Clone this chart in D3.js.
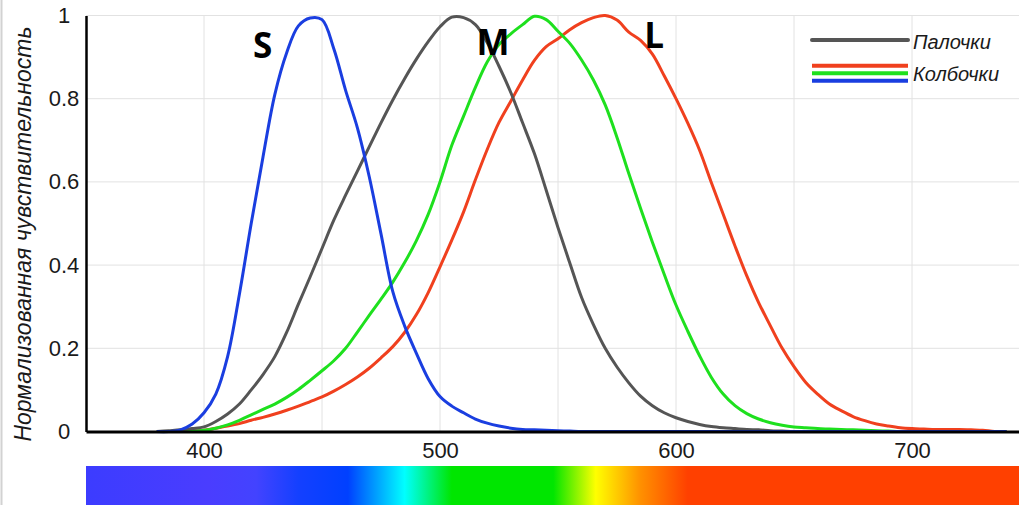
<!DOCTYPE html>
<html>
<head>
<meta charset="utf-8">
<script src="https://cdn.jsdelivr.net/npm/d3@7"></script>
<style>
  body { margin: 0; background: #fff; }
  svg { display: block; font-family: "Liberation Sans", Arial, sans-serif; }
</style>
</head>
<body>
<div id="canvas"></div>
<script>
// wavelengths, nm (shared grid for all curves)
var wavelengths = [
  380, 385, 390, 395, 400, 405, 410, 415, 420, 425,
  430, 435, 440, 445, 450, 455, 460, 465, 470, 475,
  480, 485, 490, 495, 500, 505, 510, 515, 520, 525,
  530, 535, 540, 545, 550, 555, 560, 565, 570, 575,
  580, 585, 590, 595, 600, 605, 610, 615, 620, 625,
  630, 635, 640, 645, 650, 655, 660, 665, 670, 675,
  680, 685, 690, 695, 700, 705, 710, 715, 720, 725,
  730, 735, 740
];

var rods = [
  0, 0.002, 0.004, 0.007, 0.011, 0.024, 0.042, 0.066, 0.1, 0.137,
  0.18, 0.238, 0.306, 0.372, 0.44, 0.508, 0.568, 0.626, 0.684, 0.742,
  0.797, 0.848, 0.895, 0.937, 0.973, 0.996, 0.995, 0.978, 0.935, 0.878,
  0.815, 0.742, 0.668, 0.58, 0.49, 0.405, 0.322, 0.257, 0.2, 0.155,
  0.117, 0.085, 0.062, 0.045, 0.033, 0.024, 0.017, 0.012, 0.009, 0.007,
  0.005, 0.004, 0.002, 0.001, 0, 0, 0, 0, 0, 0,
  0, 0, 0, 0, 0, 0, 0, 0, 0, 0,
  0, 0, 0
];

var coneS = [
  0, 0, 0.004, 0.018, 0.045, 0.09, 0.18, 0.33, 0.5, 0.66,
  0.81, 0.91, 0.975, 0.994, 0.99, 0.92, 0.82, 0.73, 0.613, 0.475,
  0.336, 0.254, 0.188, 0.127, 0.084, 0.061, 0.045, 0.03, 0.02, 0.013,
  0.008, 0.005, 0.004, 0.003, 0.002, 0.001, 0, 0, 0, 0,
  0, 0, 0, 0, 0, 0, 0, 0, 0, 0,
  0, 0, 0, 0, 0, 0, 0, 0, 0, 0,
  0, 0, 0, 0, 0, 0, 0, 0, 0, 0,
  0, 0, 0
];

var coneM = [
  0, 0, 0, 0.001, 0.003, 0.008, 0.016, 0.027, 0.04, 0.053,
  0.066, 0.082, 0.101, 0.123, 0.146, 0.17, 0.2, 0.239, 0.279, 0.318,
  0.359, 0.406, 0.459, 0.522, 0.6, 0.688, 0.758, 0.827, 0.888, 0.93,
  0.956, 0.978, 0.998, 0.99, 0.962, 0.933, 0.893, 0.845, 0.785, 0.707,
  0.62, 0.536, 0.455, 0.378, 0.304, 0.241, 0.182, 0.13, 0.09, 0.062,
  0.043, 0.03, 0.021, 0.015, 0.011, 0.009, 0.007, 0.006, 0.005, 0.004,
  0.003, 0.002, 0.001, 0, 0, 0, 0, 0, 0, 0,
  0, 0, 0
];

var coneL = [
  0, 0, 0, 0.001, 0.003, 0.008, 0.013, 0.019, 0.027, 0.034,
  0.042, 0.051, 0.061, 0.072, 0.083, 0.097, 0.113, 0.131, 0.152, 0.177,
  0.204, 0.238, 0.281, 0.334, 0.396, 0.46, 0.528, 0.605, 0.678, 0.743,
  0.794, 0.845, 0.892, 0.925, 0.944, 0.966, 0.983, 0.995, 1.0, 0.989,
  0.96, 0.94, 0.907, 0.855, 0.8, 0.741, 0.676, 0.598, 0.522, 0.446,
  0.374, 0.31, 0.254, 0.2, 0.156, 0.118, 0.09, 0.066, 0.05, 0.036,
  0.026, 0.018, 0.013, 0.009, 0.007, 0.006, 0.005, 0.005, 0.005, 0.004,
  0.003, 0, 0
];

var xTicks = [400, 500, 600, 700];
var xGrid = [400, 450, 500, 550, 600, 650, 700, 750];
var yTicks = [0, 0.2, 0.4, 0.6, 0.8, 1];

var yTitle = "Нормализованная чувствительность";
var legendRods = "Палочки";
var legendCones = "Колбочки";

// peak labels: [text, wavelength, value at baseline]
var peakLabels = [["S", 424.8, 0.898], ["M", 522.5, 0.905], ["L", 590.7, 0.921]];

// visible spectrum strip
var spectrumNm = [350, 402, 422, 440, 461, 485, 505, 548, 566, 585, 605, 750];
var spectrumColors = ["#3c3cff", "#4a3dff", "#4343ff", "#1440ff", "#0040ff", "#00ffff",
                      "#00e600", "#00e600", "#ffff00", "#ff9000", "#ff4000", "#ff4000"];

var colors = { rods: "#555555", S: "#1a3ee0", M: "#1ee01e", L: "#f0401e" };

var width = 1019,
    height = 505;

var x = d3.scaleLinear().domain([350, 750]).range([86, 1030]);
var y = d3.scaleLinear().domain([0, 1]).range([431.5, 15.5]);

var svg = d3.select("div#canvas").append("svg")
  .attr("width", width)
  .attr("height", height);

// left frame edge
svg.append("line")
  .attr("x1", 1.5).attr("x2", 1.5)
  .attr("y1", 0).attr("y2", height)
  .attr("stroke", "#d2d2d2")
  .attr("stroke-width", 2);

// GRID
svg.append("g").selectAll("line.h")
  .data(yTicks.slice(1))
  .enter().append("line")
  .attr("x1", x(350)).attr("x2", width)
  .attr("y1", function(d) { return y(d); })
  .attr("y2", function(d) { return y(d); })
  .attr("stroke", "#e2e2e2");

svg.append("g").selectAll("line.v")
  .data(xGrid)
  .enter().append("line")
  .attr("x1", function(d) { return x(d); })
  .attr("x2", function(d) { return x(d); })
  .attr("y1", y(1)).attr("y2", y(0))
  .attr("stroke", "#e2e2e2");

// CURVES
var line = d3.line()
  .x(function(d) { return x(d[0]); })
  .y(function(d) { return y(d[1]); })
  .curve(d3.curveCatmullRom.alpha(0.5));

var series = [
  { values: coneL, color: colors.L },
  { values: coneM, color: colors.M },
  { values: rods, color: colors.rods },
  { values: coneS, color: colors.S }
];

svg.append("g").selectAll("path")
  .data(series)
  .enter().append("path")
  .attr("d", function(s) { return line(wavelengths.map(function(w, i) { return [w, s.values[i]]; })); })
  .attr("fill", "none")
  .attr("stroke", function(s) { return s.color; })
  .attr("stroke-width", 3)
  .attr("stroke-linejoin", "round");

// AXES
var xAxis = svg.append("g")
  .attr("transform", "translate(0," + y(0) + ")")
  .call(d3.axisBottom(x).tickValues(xTicks).tickSize(0).tickPadding(11).tickFormat(d3.format("d")));
xAxis.select(".domain").attr("stroke", "#000").attr("stroke-width", 3);
xAxis.selectAll("text").attr("font-size", 22).attr("fill", "#1a1a1a")
  .attr("font-family", "'Liberation Sans', Arial, sans-serif");

var yAxis = svg.append("g")
  .attr("transform", "translate(" + x(350) + ",0)")
  .call(d3.axisLeft(y).tickValues(yTicks).tickSize(0).tickFormat(function(d) { return String(d); }));
yAxis.select(".domain").attr("stroke", "#000").attr("stroke-width", 2.5);
yAxis.selectAll("text").attr("font-size", 22).attr("fill", "#1a1a1a")
  .attr("font-family", "'Liberation Sans', Arial, sans-serif")
  .attr("text-anchor", "middle").attr("x", -22);

svg.append("text")
  .attr("transform", "translate(23," + 234 + ") rotate(-90)")
  .attr("text-anchor", "middle")
  .attr("dy", "0.35em")
  .attr("font-size", 23)
  .attr("font-style", "italic")
  .attr("fill", "#1a1a1a")
  .text(yTitle);

// PEAK LABELS
svg.append("g").selectAll("text")
  .data(peakLabels)
  .enter().append("text")
  .attr("x", function(d) { return x(d[1]); })
  .attr("y", function(d) { return y(d[2]); })
  .attr("text-anchor", "middle")
  .attr("font-family", "'Open Sans', sans-serif")
  .attr("font-weight", "bold")
  .attr("font-size", 35)
  .attr("fill", "#000")
  .text(function(d) { return d[0]; });

// LEGEND
var legend = svg.append("g");
legend.append("line")
  .attr("x1", 812).attr("x2", 908).attr("y1", 40).attr("y2", 40)
  .attr("stroke", colors.rods).attr("stroke-width", 4).attr("stroke-linecap", "round");
legend.selectAll("line.cone")
  .data([colors.L, colors.M, colors.S])
  .enter().append("line")
  .attr("x1", 812).attr("x2", 908)
  .attr("y1", function(d, i) { return 65.7 + i * 7.5; })
  .attr("y2", function(d, i) { return 65.7 + i * 7.5; })
  .attr("stroke", function(d) { return d; })
  .attr("stroke-width", 4);
legend.selectAll("text")
  .data([[legendRods, 42], [legendCones, 73.5]])
  .enter().append("text")
  .attr("x", 913)
  .attr("y", function(d) { return d[1]; })
  .attr("dy", "0.35em")
  .attr("font-size", 20)
  .attr("font-style", "italic")
  .attr("fill", "#1a1a1a")
  .text(function(d) { return d[0]; });

// SPECTRUM STRIP
var grad = svg.append("defs").append("linearGradient")
  .attr("id", "spectrum")
  .attr("gradientUnits", "userSpaceOnUse")
  .attr("x1", x(350)).attr("x2", x(750))
  .attr("y1", 0).attr("y2", 0);
grad.selectAll("stop")
  .data(spectrumNm)
  .enter().append("stop")
  .attr("offset", function(d) { return (d - 350) / 400; })
  .attr("stop-color", function(d, i) { return spectrumColors[i]; });

svg.append("rect")
  .attr("x", x(350))
  .attr("y", 466)
  .attr("width", x(750) - x(350))
  .attr("height", height - 466)
  .attr("fill", "url(#spectrum)");
</script>
</body>
</html>
